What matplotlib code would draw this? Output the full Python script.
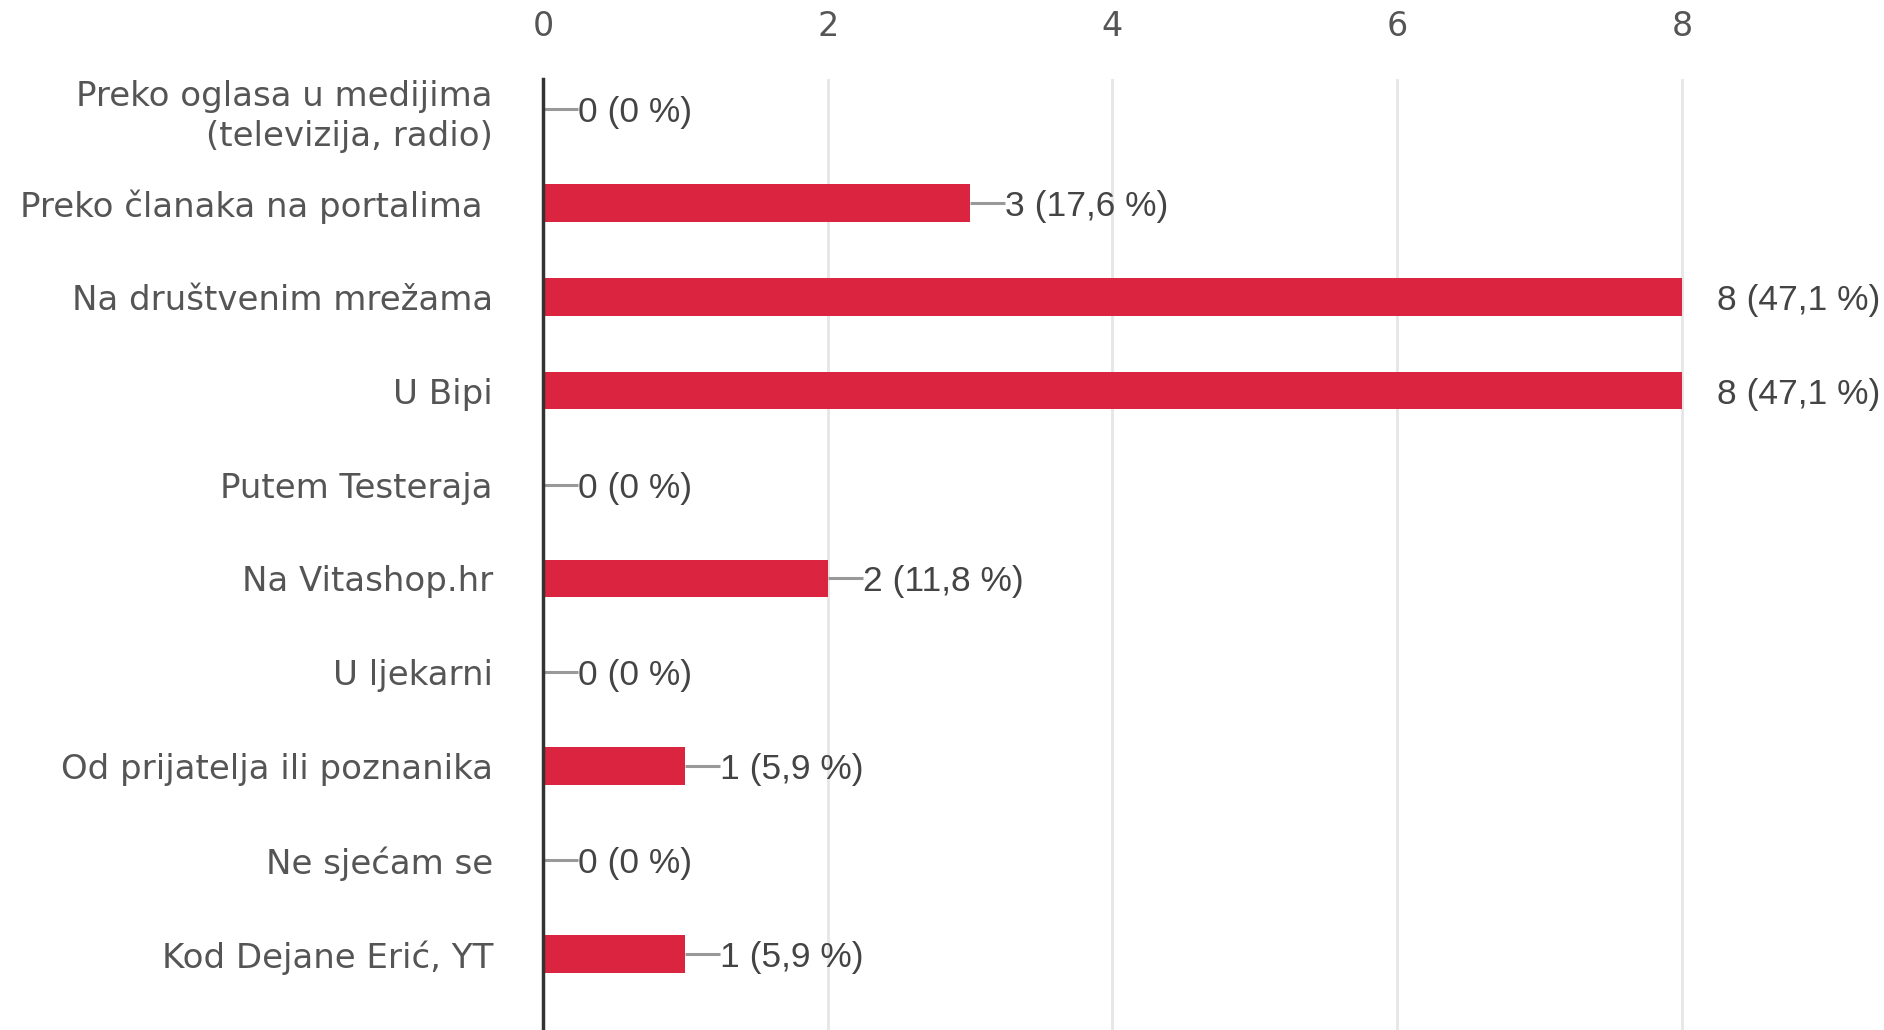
import numpy as np
import matplotlib
matplotlib.use("Agg")
import matplotlib.pyplot as plt

categories = [
    "Preko oglasa u medijima\n(televizija, radio)",
    "Preko članaka na portalima ",
    "Na društvenim mrežama",
    "U Bipi",
    "Putem Testeraja",
    "Na Vitashop.hr",
    "U ljekarni",
    "Od prijatelja ili poznanika",
    "Ne sjećam se",
    "Kod Dejane Erić, YT",
]
counts = [0, 3, 8, 8, 0, 2, 0, 1, 0, 1]
percents = ["0", "17,6", "47,1", "47,1", "0", "11,8", "0", "5,9", "0", "5,9"]
xticks = [0, 2, 4, 6, 8]

bar_color = "#DA2440"
label_color = "#555555"
value_color = "#444444"

fig = plt.figure(figsize=(18.84, 10.30), dpi=100)
ax = fig.add_axes([543 / 1884, 0.0, 1 - 543 / 1884, 1 - 79 / 1030])

y = np.arange(len(categories))
ax.barh(y, counts, height=0.4, color=bar_color, zorder=3)

ax.set_xlim(0, 9.42)
ax.set_ylim(9.81, -0.32)

# leader lines and value labels
unit = 142.4  # pixels per unit along x
lead = 35 / unit
for yi, c, p in zip(y, counts, percents):
    if c < xticks[-1]:
        ax.plot([c, c + lead], [yi, yi], color="#999999", lw=2.2, zorder=4,
                solid_capstyle="butt")
    ax.text(c + lead, yi, f"{c} ({p} %)", va="center_baseline", ha="left",
            fontsize=25.5, color=value_color, family="Liberation Sans", zorder=5)

ax.set_xticks(xticks)
ax.xaxis.tick_top()
ax.tick_params(axis="x", length=0, pad=26, labelsize=24, labelcolor=label_color)
ax.grid(axis="x", color="#e6e6e6", lw=2, zorder=0)

ax.set_yticks(y)
ax.set_yticklabels(categories, fontsize=24.5, color=label_color,
                   family="DejaVu Sans", linespacing=1.3)
ax.tick_params(axis="y", length=0, pad=36)

for s in ["top", "right", "bottom"]:
    ax.spines[s].set_visible(False)
ax.spines["left"].set_color("#333333")
ax.spines["left"].set_linewidth(2.5)
ax.spines["left"].set_zorder(6)

fig.savefig("out.png", dpi=100)
